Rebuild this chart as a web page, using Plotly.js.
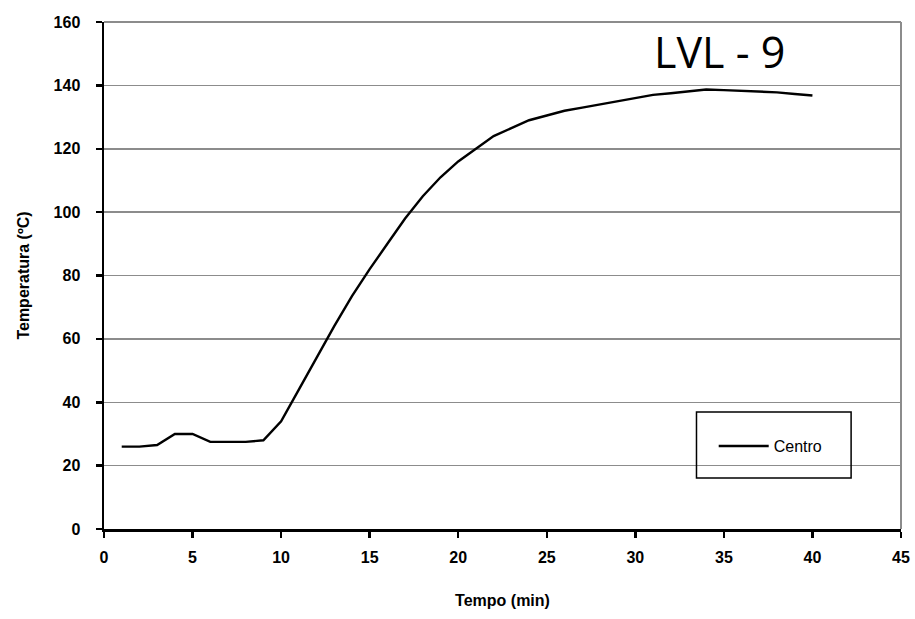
<!DOCTYPE html>
<html>
<head>
<meta charset="utf-8">
<script src="https://cdn.plot.ly/plotly-3.0.1.min.js"></script>
<style>html,body{margin:0;padding:0;background:#fff;}#chart{width:915px;height:619px;}</style>
</head>
<body>
<div id="chart"></div>
<script>
const tempo = [1,2,3,4,5,6,7,8,9,10,11,12,13,14,15,16,17,18,19,20,21,22,23,24,25,26,27,28,29,30,31,32,33,34,35,36,37,38,39,40];
const centro = [26,26,26.5,30,30,27.5,27.5,27.5,28,34,44,54,64,73.5,82,90,98,105,111,116,120,124,126.5,129,130.5,132,133,134,135,136,137,137.5,138,138.7,138.5,138.3,138.2,137.8,137.3,136.8];
const seriesName = 'Centro';
const chartTitle = 'LVL - 9';
const xTitle = 'Tempo (min)';
const yTitle = 'Temperatura (ºC)';

const tickFont = {family: 'Liberation Sans, Arial, sans-serif', size: 16, color: '#000', weight: 700};

Plotly.newPlot('chart', [{
  x: tempo, y: centro, name: seriesName, type: 'scatter', mode: 'lines',
  line: {color: '#000', width: 2.4}
}], {
  width: 915, height: 619,
  margin: {l: 104, r: 14, t: 22, b: 90},
  paper_bgcolor: '#fff', plot_bgcolor: '#fff',
  showlegend: true,
  legend: {
    x: 0.765, y: 0.197, xanchor: 'left', yanchor: 'top',
    borderwidth: 0, bgcolor: 'rgba(0,0,0,0)', itemwidth: 50,
    font: {family: 'Liberation Sans, Arial, sans-serif', size: 16, color: '#000'}
  },
  xaxis: {
    range: [0, 45], dtick: 5, tick0: 0,
    showline: true, linecolor: '#000', linewidth: 2.5,
    ticks: 'outside', ticklen: 6, tickwidth: 2.5, tickcolor: '#000',
    showgrid: false, zeroline: false,
    tickfont: tickFont, ticklabelstandoff: 6,
    title: {text: xTitle, font: tickFont, standoff: 30}
  },
  yaxis: {
    range: [0, 160], dtick: 20, tick0: 0,
    showline: true, linecolor: '#000', linewidth: 2.5,
    ticks: 'outside', ticklen: 6, tickwidth: 2.5, tickcolor: '#000',
    showgrid: true, gridcolor: '#8c8c8c', gridwidth: 1.5, zeroline: false,
    tickfont: tickFont, ticklabelstandoff: 12,
    title: {text: yTitle, font: tickFont, standoff: 20}
  },
  shapes: [
    {type: 'line', xref: 'paper', yref: 'paper', x0: 1, x1: 1, y0: 0, y1: 1, line: {color: '#8c8c8c', width: 2}},
    {type: 'line', xref: 'paper', yref: 'paper', x0: 0, x1: 1, y0: 1, y1: 1, line: {color: '#8c8c8c', width: 2}},
    {type: 'rect', xref: 'paper', yref: 'paper', x0: 0.7434, x1: 0.9374, y0: 0.1006, y1: 0.2308, line: {color: '#000', width: 1.5}, fillcolor: 'rgba(0,0,0,0)'}
  ],
  annotations: [{
    text: chartTitle, xref: 'paper', yref: 'paper', x: 0.772, y: 0.941,
    xanchor: 'center', yanchor: 'middle', showarrow: false,
    font: {family: 'Open Sans, Noto Sans, sans-serif', size: 43, color: '#000'}
  }]
}, {displayModeBar: false, staticPlot: true});
</script>
</body>
</html>
